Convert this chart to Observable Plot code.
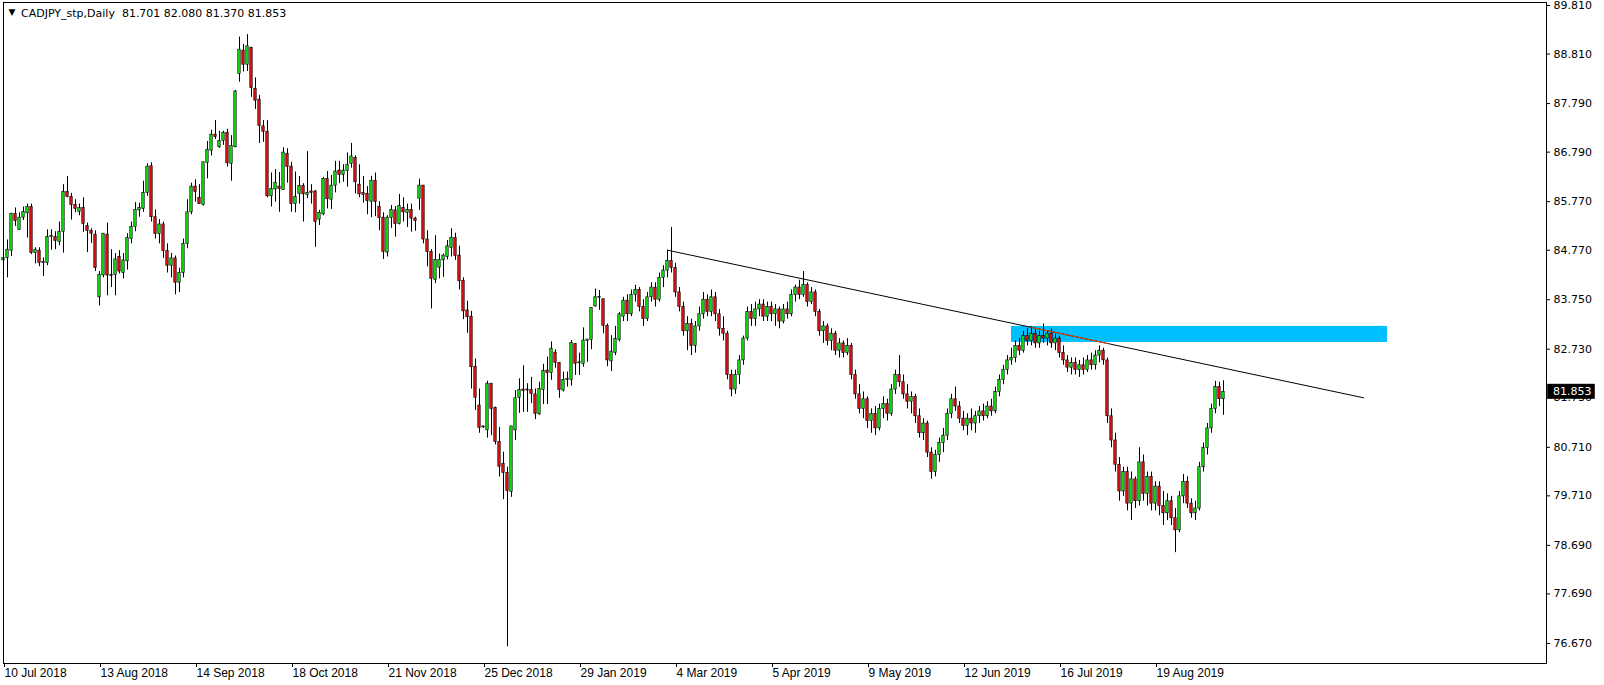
<!DOCTYPE html>
<html><head><meta charset="utf-8">
<script src="https://cdn.jsdelivr.net/npm/d3@7"></script>
<script src="https://cdn.jsdelivr.net/npm/@observablehq/plot@0.6"></script>
<style>html,body{margin:0;padding:0;background:#fff;overflow:hidden}</style>
</head><body><div id="chart"></div>
<script>
const symbol = "CADJPY_stp,Daily";
const opens = [
84.56,84.61,84.76,85.52,85.19,85.44,85.53,85.66,84.71,84.76,
84.52,84.51,85.04,85.04,84.94,85.15,85.97,85.87,85.70,85.56,
85.64,85.27,85.17,85.09,83.80,84.25,85.09,84.26,84.26,84.63,
84.30,84.54,85.00,85.25,85.59,85.62,85.95,86.50,85.45,85.10,
85.30,84.75,84.45,84.60,84.10,84.30,84.90,85.55,86.08,85.85,
85.70,86.57,86.82,87.15,86.89,87.02,87.19,86.55,86.89,88.40,
88.88,88.59,88.94,88.09,87.87,87.32,87.21,85.88,86.02,86.08,
86.01,86.75,86.49,85.72,85.93,86.09,85.91,85.98,85.98,85.40,
85.51,86.24,85.81,86.10,86.41,86.32,86.40,86.55,86.67,86.12,
85.95,85.93,85.77,86.20,85.66,85.44,84.72,85.43,85.59,85.31,
85.64,85.54,85.60,85.42,85.83,86.10,84.99,84.73,84.16,84.41,
84.56,84.63,84.82,85.02,84.66,84.14,83.53,83.40,82.37,81.57,
81.13,81.06,82.02,81.52,80.82,80.37,80.18,79.79,81.06,81.73,
81.90,81.89,81.89,81.80,81.39,81.89,82.29,82.24,82.66,82.45,
81.88,82.10,82.10,82.84,82.44,82.43,82.90,82.92,83.61,83.79,
83.76,83.21,82.48,82.65,82.92,83.40,83.73,83.45,83.85,83.95,
83.60,83.35,83.80,84.00,83.75,84.20,84.35,84.55,84.40,83.90,
83.60,83.10,83.25,82.80,83.20,83.45,83.75,83.50,83.80,83.45,
83.15,83.05,82.20,81.90,82.20,82.50,82.95,83.50,83.35,83.55,
83.65,83.40,83.60,83.45,83.55,83.30,83.55,83.45,83.85,84.00,
83.85,84.05,83.70,83.90,83.50,83.10,83.20,82.90,83.05,82.70,
82.85,82.65,82.80,82.20,81.80,81.50,81.70,81.25,81.40,81.10,
81.50,81.60,81.40,81.90,82.20,82.05,81.80,81.65,81.75,81.35,
81.00,81.20,80.60,80.20,80.55,80.80,80.95,81.40,81.70,81.55,
81.30,81.15,81.30,81.20,81.35,81.45,81.35,81.55,81.45,81.85,
82.10,82.30,82.50,82.55,82.80,82.70,83.00,82.90,83.05,82.85,
83.00,82.95,83.05,82.85,82.95,82.65,82.50,82.35,82.45,82.30,
82.40,82.30,82.50,82.40,82.60,82.70,82.50,81.35,80.85,80.35,
79.80,80.20,79.55,80.05,79.60,80.40,79.75,80.10,79.55,79.90,
79.50,79.35,79.60,79.25,79.00,79.70,80.00,79.55,79.35,79.45,
80.30,80.70,81.10,81.50,81.95,81.701];
const highs = [
84.90,84.98,85.53,85.64,85.54,85.66,85.72,85.72,84.82,84.82,
84.61,85.19,85.19,85.15,85.35,86.12,86.29,85.94,85.81,85.72,
85.85,85.33,85.21,85.17,84.33,85.11,85.33,84.78,84.70,84.76,
84.70,85.11,85.35,85.75,85.74,86.19,86.55,86.57,85.60,85.40,
85.35,84.90,84.70,84.65,84.40,85.00,85.81,86.15,86.22,86.12,
86.58,87.01,87.24,87.44,87.22,87.22,87.26,87.13,88.06,89.16,
89.01,89.21,88.95,88.32,87.96,87.44,87.44,86.36,86.43,86.37,
86.88,86.86,86.58,86.38,86.29,86.14,86.80,86.12,86.00,85.59,
86.27,86.39,86.31,86.60,86.60,86.53,86.77,86.97,86.71,86.53,
86.29,86.08,86.29,86.36,85.77,85.54,85.48,85.69,85.67,85.92,
85.85,85.72,85.72,85.45,86.23,86.10,85.17,84.78,85.07,84.69,
84.69,84.97,85.21,85.12,84.85,84.20,83.72,83.51,82.53,81.91,
81.14,82.07,82.02,81.54,81.12,80.61,80.30,81.14,81.88,82.12,
82.39,82.02,82.15,81.91,82.05,82.42,82.57,82.88,82.72,82.45,
82.26,82.26,82.91,82.84,82.65,83.17,82.93,83.58,83.97,83.94,
83.76,83.25,83.01,83.20,83.49,83.80,83.85,83.95,84.05,84.00,
83.75,83.90,84.10,84.10,84.30,84.45,84.77,85.24,84.50,84.00,
83.70,83.40,83.35,83.30,83.60,83.90,83.85,83.95,83.90,83.55,
83.40,83.10,82.30,82.30,82.60,83.00,83.60,83.65,83.70,83.75,
83.75,83.70,83.70,83.65,83.60,83.65,83.70,83.95,84.05,84.15,
84.33,84.10,84.00,83.95,83.55,83.30,83.25,83.15,83.10,82.95,
82.90,82.95,82.85,82.30,82.00,81.85,81.75,81.50,81.55,81.60,
81.75,81.70,82.00,82.30,82.60,82.20,82.00,81.85,81.80,81.50,
81.30,81.25,80.70,80.65,80.90,81.10,81.50,81.80,81.95,81.65,
81.45,81.40,81.50,81.45,81.55,81.60,81.65,81.70,81.95,82.20,
82.40,82.60,82.75,82.90,82.95,83.10,83.15,83.20,83.15,83.10,
83.25,83.10,83.15,83.05,83.00,82.80,82.60,82.55,82.55,82.50,
82.55,82.60,82.65,82.70,82.80,82.75,82.55,81.50,81.00,80.50,
80.30,80.30,80.20,80.10,80.70,80.55,80.20,80.20,80.00,80.00,
79.80,79.75,79.70,79.45,79.80,80.15,80.10,79.65,79.60,80.40,
80.80,81.20,81.60,82.07,82.05,82.080];
const lows = [
84.43,84.20,84.64,85.26,85.18,85.38,85.02,84.68,84.49,84.43,
84.23,84.45,84.77,84.78,84.86,84.71,85.85,85.39,85.54,85.48,
85.14,84.72,84.91,84.33,83.62,84.20,83.83,84.00,83.83,84.28,
84.18,84.36,84.90,85.15,85.45,85.55,85.88,85.35,85.00,84.90,
84.60,84.30,84.20,83.85,83.90,84.20,84.80,85.50,85.76,85.71,
85.68,86.24,86.71,87.05,86.87,86.93,86.48,86.19,86.88,88.23,
88.44,88.45,87.92,87.67,86.97,86.99,85.85,85.66,85.76,85.55,
86.00,86.15,85.55,85.54,85.72,85.35,85.83,85.72,84.83,85.28,
85.48,85.62,85.61,85.95,86.14,86.17,86.07,86.46,85.93,85.85,
85.74,85.50,85.44,85.46,85.17,84.58,84.63,85.22,85.04,85.29,
85.35,85.24,85.14,85.16,85.59,84.90,84.43,83.56,84.08,84.18,
84.21,84.57,84.63,84.56,83.95,83.34,83.06,81.91,81.47,81.00,
81.10,80.90,80.95,80.76,80.10,79.63,76.60,79.68,80.85,81.41,
81.43,81.43,81.61,81.28,81.37,81.59,81.59,82.09,82.34,81.72,
81.85,81.95,81.97,82.19,82.19,82.36,82.46,82.72,83.60,83.53,
83.05,82.37,82.27,82.60,82.88,83.30,83.30,83.40,83.70,83.50,
83.20,83.30,83.70,83.60,83.70,84.00,84.20,84.30,83.80,83.50,
83.00,82.70,82.60,82.65,83.10,83.35,83.40,83.40,83.30,83.00,
82.90,82.10,81.75,81.80,82.00,82.40,82.90,83.20,83.20,83.40,
83.30,83.30,83.30,83.20,83.15,83.25,83.35,83.40,83.70,83.75,
83.80,83.60,83.65,83.40,83.00,82.85,82.80,82.70,82.60,82.55,
82.55,82.60,82.10,81.70,81.40,81.30,81.10,81.00,80.95,81.05,
81.30,81.25,81.35,81.80,81.95,81.70,81.50,81.40,81.20,80.90,
80.85,80.50,80.05,80.10,80.40,80.60,80.85,81.30,81.45,81.20,
81.05,80.95,81.05,81.00,81.20,81.25,81.30,81.35,81.40,81.75,
82.00,82.20,82.40,82.45,82.60,82.65,82.80,82.80,82.75,82.75,
82.85,82.80,82.75,82.70,82.55,82.40,82.25,82.20,82.20,82.15,
82.20,82.25,82.30,82.30,82.45,82.40,81.20,80.70,80.20,79.60,
79.70,79.40,79.20,79.45,79.50,79.60,79.50,79.40,79.40,79.30,
79.10,79.20,79.10,78.54,78.95,79.55,79.45,79.25,79.20,79.40,
80.20,80.55,81.00,81.40,81.55,81.370];
const closes = [
84.61,84.78,85.52,85.37,85.44,85.56,85.66,84.71,84.78,84.51,
84.51,85.04,85.05,84.96,85.15,85.97,85.87,85.70,85.62,85.64,
85.31,85.17,85.11,84.40,84.26,85.11,84.25,84.24,84.58,84.33,
84.56,85.02,85.25,85.60,85.64,85.95,86.49,85.45,85.10,85.30,
84.75,84.45,84.60,84.10,84.30,84.90,85.55,86.08,85.97,85.72,
86.58,86.84,87.15,87.10,87.02,87.19,86.56,86.92,88.04,88.90,
88.59,88.97,88.11,87.85,87.33,87.21,85.88,86.03,86.16,86.03,
86.78,86.48,85.72,85.87,86.09,85.92,85.95,85.95,85.35,85.54,
86.24,85.82,86.10,86.39,86.32,86.41,86.53,86.70,86.17,85.92,
85.91,85.78,86.20,85.76,85.43,84.73,85.44,85.60,85.31,85.68,
85.55,85.60,85.42,85.37,86.10,84.99,84.73,84.18,84.57,84.57,
84.66,84.85,85.02,84.65,84.13,83.51,83.39,82.36,81.73,81.11,
81.12,82.02,81.50,80.82,80.31,80.18,79.81,81.14,81.72,81.89,
81.87,81.88,81.81,81.40,81.91,82.28,82.24,82.74,82.45,81.89,
82.10,82.11,82.86,82.43,82.45,82.91,82.93,83.58,83.80,83.80,
83.21,82.50,82.68,82.94,83.45,83.73,83.45,83.85,83.95,83.60,
83.35,83.80,84.00,83.75,84.20,84.35,84.55,84.40,83.90,83.60,
83.10,83.25,82.80,83.20,83.45,83.75,83.50,83.80,83.45,83.15,
83.05,82.20,81.90,82.20,82.50,82.95,83.50,83.35,83.55,83.65,
83.40,83.60,83.45,83.55,83.30,83.55,83.45,83.85,84.00,83.85,
84.05,83.70,83.90,83.50,83.10,83.20,82.90,83.05,82.70,82.85,
82.65,82.80,82.20,81.80,81.50,81.70,81.25,81.40,81.10,81.50,
81.60,81.40,81.90,82.20,82.05,81.80,81.65,81.75,81.35,81.00,
81.20,80.60,80.20,80.55,80.80,80.95,81.40,81.70,81.55,81.30,
81.15,81.30,81.20,81.35,81.45,81.35,81.55,81.45,81.85,82.10,
82.30,82.50,82.55,82.80,82.70,83.00,82.90,83.05,82.85,83.00,
82.95,83.05,82.85,82.95,82.65,82.50,82.35,82.45,82.30,82.40,
82.30,82.50,82.40,82.60,82.70,82.50,81.35,80.85,80.35,79.80,
80.20,79.55,80.05,79.60,80.40,79.75,80.10,79.55,79.90,79.50,
79.35,79.60,79.25,79.00,79.70,80.00,79.55,79.35,79.45,80.30,
80.70,81.10,81.50,81.95,81.70,81.853];

const xTickIdx = [0,24,48,72,96,120,144,168,192,216,240,264,288];
const xTickLabels = ["10 Jul 2018","13 Aug 2018","14 Sep 2018","18 Oct 2018","21 Nov 2018","25 Dec 2018","29 Jan 2019","4 Mar 2019","5 Apr 2019","9 May 2019","12 Jun 2019","16 Jul 2019","19 Aug 2019"];
const yTicks = [89.81,88.81,87.79,86.79,85.77,84.77,83.75,82.73,81.73,80.71,79.71,78.69,77.69,76.67];

const trendX = [166, 340];
const trendY = [84.77, 81.73];
const redX = [257, 276];
const redY = [83.18, 82.85];
const zoneX = [252, 346];
const zoneY = [82.87, 83.20];

const n = Math.min(opens.length, highs.length, lows.length, closes.length);
const bars = [];
for (let i = 0; i < n; i++) {
  const o = opens[i], c = closes[i];
  let lo = Math.min(o, c), hi = Math.max(o, c);
  if (hi - lo < 0.02) hi = lo + 0.02;
  bars.push({i, open: o, high: highs[i], low: lows[i], close: c, b1: lo, b2: hi, up: c >= o});
}
const last = bars[bars.length - 1];
const title = `${symbol}  ${last.open.toFixed(3)} ${last.high.toFixed(3)} ${last.low.toFixed(3)} ${last.close.toFixed(3)}`;

const W = 1604, H = 685;
const mL = 3, mR = 58, mT = 2, mB = 22;
const pxPerBar = 4;
const xMax = (W - mR - mL) / pxPerBar;
const pxPerUnit = 48.55;
const yTopPrice = 89.81 + 3 / pxPerUnit;
const yBotPrice = yTopPrice - (H - mB - mT) / pxPerUnit;
const halfBody = 0.375 - 0.3 / pxPerBar;

const bull = "#10EE10", bear = "#EE1010";
const axisFont = "DejaVu Sans, Verdana, sans-serif";
const dateFont = "Liberation Sans, Arial, sans-serif";

const chart = Plot.plot({
  width: W, height: H,
  marginLeft: mL, marginRight: mR, marginTop: mT, marginBottom: mB,
  style: {fontFamily: dateFont, fontSize: "12px", background: "#ffffff", color: "#000"},
  x: {type: "linear", domain: [0, xMax], label: null},
  y: {type: "linear", domain: [yBotPrice, yTopPrice], label: null},
  marks: [
    Plot.rect([{x1: zoneX[0], x2: zoneX[1], y1: zoneY[0], y2: zoneY[1]}], {x1: "x1", x2: "x2", y1: "y1", y2: "y2", fill: "#00BFFF"}),
    Plot.ruleX(bars, {x: "i", y1: "low", y2: "high", stroke: "#000", strokeWidth: 1}),
    Plot.rect(bars, {x1: d => d.i - halfBody, x2: d => d.i + halfBody, y1: "b1", y2: "b2", fill: d => d.up ? bull : bear, stroke: "#000", strokeWidth: 0.65}),
    Plot.line(trendX.map((x, k) => ({x, y: trendY[k]})), {x: "x", y: "y", stroke: "#000", strokeWidth: 1}),
    Plot.line(redX.map((x, k) => ({x, y: redY[k]})), {x: "x", y: "y", stroke: "#FF4500", strokeWidth: 1}),
    Plot.frame({stroke: "#000"}),
    Plot.axisY({anchor: "right", ticks: yTicks, tickFormat: d => d.toFixed(3), tickSize: 3, tickPadding: 4, fontFamily: axisFont, fontSize: 11, label: null}),
    Plot.axisX({ticks: xTickIdx, tickFormat: d => xTickLabels[xTickIdx.indexOf(d)], tickSize: 4, tickPadding: 1, textAnchor: "start", dx: 1, fontFamily: dateFont, fontSize: 12, label: null}),
    Plot.rect([last.close], {x1: xMax + 0.3, x2: xMax + 12.2, y1: d => d - 7.5 / pxPerUnit, y2: d => d + 7.5 / pxPerUnit, fill: "#000"}),
    Plot.text([last.close], {x: xMax + 1.6, y: d => d, text: d => d.toFixed(3), fill: "#fff", textAnchor: "start", fontFamily: axisFont, fontSize: 11}),
    Plot.text(["\u25BC"], {frameAnchor: "top-left", dx: 5, dy: 10, text: d => d, fontSize: 9, fontFamily: axisFont, lineAnchor: "middle", textAnchor: "start", fill: "#000"}),
    Plot.text([title], {frameAnchor: "top-left", dx: 17.5, dy: 10.5, text: d => d, fontSize: 11, fontFamily: axisFont, lineAnchor: "middle", textAnchor: "start", fill: "#000"})
  ]
});
document.getElementById("chart").appendChild(chart);
</script>
</body></html>
